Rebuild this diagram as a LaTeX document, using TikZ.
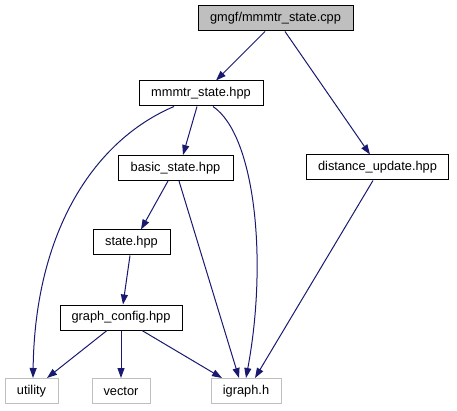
\documentclass[tikz,border=0pt]{standalone}
\usepackage{fontspec}
\setmainfont{Liberation Sans}
\usetikzlibrary{arrows.meta}
\definecolor{midnight}{RGB}{25,25,112}
\definecolor{boxgray}{RGB}{191,191,191}
\begin{document}
\begin{tikzpicture}[
    x=1pt, y=-1pt,
    file/.style={draw=black, line width=1pt, fill=white, inner sep=0pt,
        minimum height=25pt, font=\fontsize{12.8}{15}\selectfont},
    mainfile/.style={file, fill=boxgray},
    extfile/.style={file, draw=boxgray},
    edge/.style={midnight, line width=1pt, -{Triangle[length=10pt,width=7pt]}}
]
\useasboundingbox (0,0) rectangle (457,411);

% Files
\node[mainfile, minimum width=155pt] (cpp) at (275.5,18.5) {gmgf/mmmtr\_state.cpp};
\node[file, minimum width=124pt] (mmmtr) at (201,93.5) {mmmtr\_state.hpp};
\node[file, minimum width=115pt] (basic) at (175.5,168) {basic\_state.hpp};
\node[file, minimum width=142pt] (dist) at (377.5,167.5) {distance\_update.hpp};
\node[file, minimum width=77pt] (state) at (131.5,242.5) {state.hpp};
\node[file, minimum width=122pt] (gconf) at (121,317.5) {graph\_config.hpp};

% System headers
\node[extfile, minimum width=53pt] (utility) at (31.5,391) {utility};
\node[extfile, minimum width=58pt] (vector) at (121,391) {vector};
\node[extfile, minimum width=70pt] (igraph) at (246,391) {igraph.h};

% Includes
\draw[edge] ([xshift=-10.5pt]cpp.south) -- ([xshift=15pt]mmmtr.north);
\draw[edge] ([xshift=9.5pt]cpp.south) -- ([xshift=-7.5pt]dist.north);
\draw[edge] ([xshift=-27pt]mmmtr.south) .. controls (95,140) and (35,230) .. ([xshift=1.5pt]utility.north);
\draw[edge] ([xshift=-4pt]mmmtr.south) -- ([xshift=7.5pt]basic.north);
\draw[edge] ([xshift=12pt]mmmtr.south) .. controls (255,135) and (268,260) .. (igraph.north);
\draw[edge] ([xshift=-7.5pt]basic.south) -- ([xshift=9.5pt]state.north);
\draw[edge] ([xshift=3.5pt]basic.south) -- ([xshift=-7pt]igraph.north);
\draw[edge] ([xshift=-4.5pt]dist.south) -- ([xshift=9pt]igraph.north);
\draw[edge] ([xshift=-1.5pt]state.south) -- ([xshift=2pt]gconf.north);
\draw[edge] ([xshift=-14pt]gconf.south) -- ([xshift=15.5pt]utility.north);
\draw[edge] (gconf.south) -- (vector.north);
\draw[edge] ([xshift=21pt]gconf.south) -- ([xshift=-24pt]igraph.north);

\end{tikzpicture}
\end{document}
